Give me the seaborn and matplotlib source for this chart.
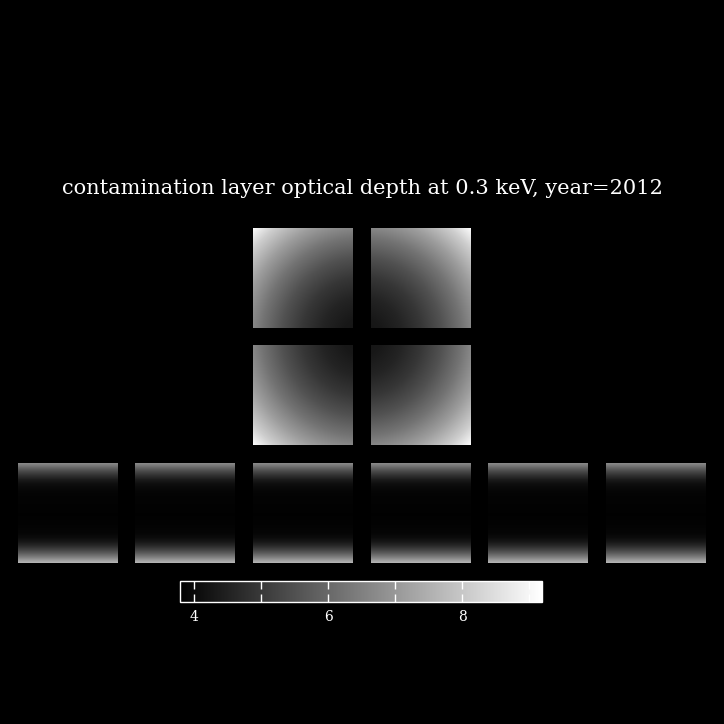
import numpy as np
import pandas as pd
import matplotlib
matplotlib.use("Agg")
import matplotlib.pyplot as plt
import seaborn as sns

# colour scale of the map (optical depth)
vmin, vmax = 3.79, 9.19
cbar_ticks = [4, 5, 6, 7, 8, 9]
cbar_labels = ["4", "", "6", "", "8", ""]

# ACIS-I: optical depth vs distance from array centre (chip widths)
i_radius = [0.0, 0.2, 0.4, 0.6, 0.8, 1.0, 1.2, 1.4, 1.55]
i_depth = [4.21, 4.29, 4.54, 4.94, 5.50, 6.22, 7.11, 8.15, 9.19]

# ACIS-S: optical depth vs chip row (0 = top, 99 = bottom)
s_row = [0, 2, 5, 8, 12, 16, 20, 25, 30, 50, 60, 70, 74, 78, 82, 86, 90, 94, 97, 99]
s_depth = [6.65, 6.33, 5.80, 5.31, 4.81, 4.38, 4.11, 3.96, 3.88, 3.83,
           3.84, 3.92, 4.04, 4.26, 4.64, 5.17, 5.80, 6.54, 7.18, 7.56]

npix = 100
gap = 0.18  # gap between I chips, in chip widths

# chip positions on the figure (left, bottom) in pixels of a 724 px figure
i_chips = {"I0": (253, 396), "I1": (371, 396), "I2": (253, 279), "I3": (371, 279)}
i_offset = {"I0": (0, 0), "I1": (1, 0), "I2": (0, 1), "I3": (1, 1)}
s_left = [18, 135, 253, 371, 488, 606]
s_bottom = 161

u = (np.arange(npix) + 0.5) / npix


def i_chip(name):
    cx, cy = i_offset[name]
    xx = cx * (1 + gap) + u[None, :] - (1 + gap / 2)
    yy = cy * (1 + gap) + u[:, None] - (1 + gap / 2)
    r = np.hypot(xx, yy)
    return pd.DataFrame(np.interp(r, i_radius, i_depth))


def s_chip():
    rows = np.arange(npix)
    col = np.interp(rows, s_row, s_depth)
    return pd.DataFrame(np.repeat(col[:, None], npix, axis=1))


W = 724
fig = plt.figure(figsize=(7.24, 7.24), dpi=100, facecolor="black")


def chip_axes(left, bottom):
    return fig.add_axes([left / W, bottom / W, npix / W, npix / W])


mesh = None
for name, (l, b) in i_chips.items():
    ax = chip_axes(l, b)
    sns.heatmap(i_chip(name), ax=ax, cmap="gray", vmin=vmin, vmax=vmax,
                cbar=False, xticklabels=False, yticklabels=False)
    ax.set_axis_off()
    mesh = ax.collections[0]

for l in s_left:
    ax = chip_axes(l, s_bottom)
    sns.heatmap(s_chip(), ax=ax, cmap="gray", vmin=vmin, vmax=vmax,
                cbar=False, xticklabels=False, yticklabels=False)
    ax.set_axis_off()

fig.text(0.5, 1 - 189 / W,
         "contamination layer optical depth at 0.3 keV, year=2012",
         color="white", ha="center", va="center",
         family="DejaVu Serif", fontsize=15)

cax = fig.add_axes([180 / W, 1 - 602 / W, 362 / W, 21 / W])
cb = fig.colorbar(mesh, cax=cax, orientation="horizontal")
cb.outline.set_edgecolor("white")
cb.outline.set_linewidth(1.0)
cb.set_ticks(cbar_ticks)
cb.set_ticklabels(cbar_labels)
cax.tick_params(axis="x", which="both", top=True, bottom=True, direction="in",
                length=6, width=1, color="white", labelcolor="white",
                labelsize=10, pad=6)
for lab in cax.get_xticklabels():
    lab.set_family("DejaVu Serif")
cax.minorticks_off()

fig.savefig("out.png", dpi=100, facecolor="black")
